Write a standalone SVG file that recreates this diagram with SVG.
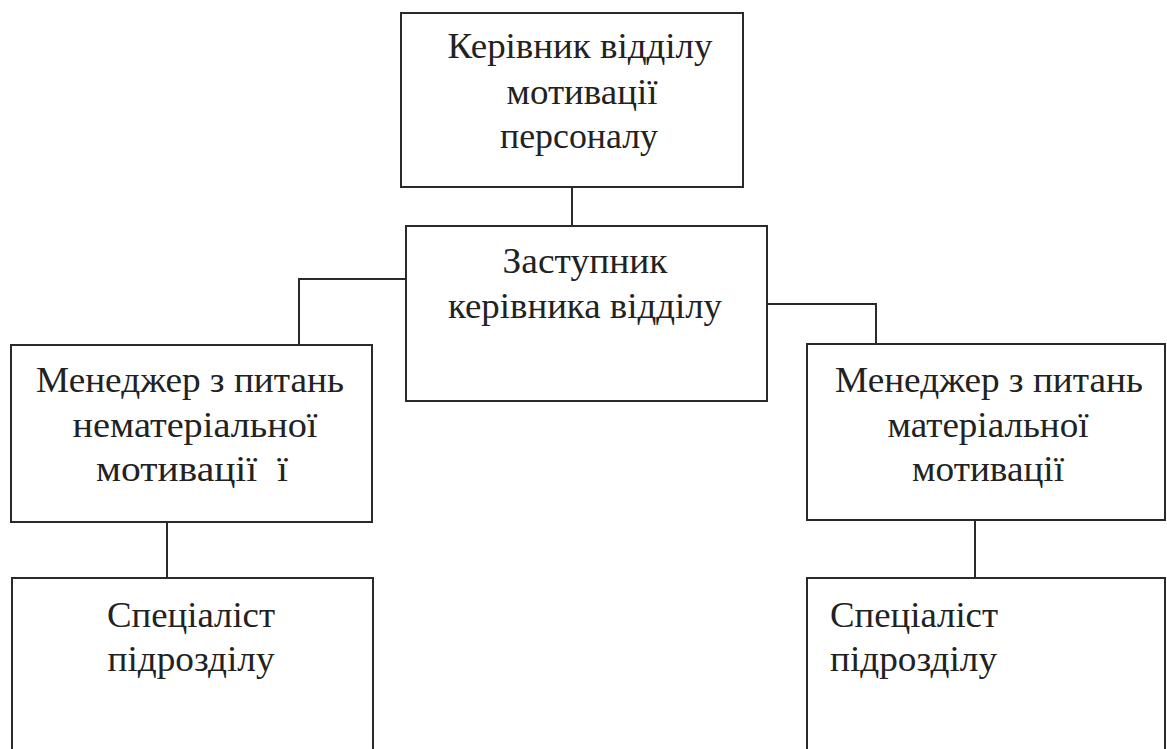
<svg xmlns="http://www.w3.org/2000/svg" width="1167" height="749" viewBox="0 0 1167 749">
<style>
.box{fill:#fff;stroke:#2a2a2a;stroke-width:2}
.t{font-family:"Liberation Serif","Times New Roman",serif;font-size:35px;fill:#222;text-anchor:middle}
.l{text-anchor:start}
.c{fill:none;stroke:#2a2a2a;stroke-width:2}
</style>
<rect width="1167" height="749" fill="#fff"/>
<g id="connectors">
<path class="c" d="M572 187V226"/>
<path class="c" d="M406 279H299V345"/>
<path class="c" d="M767 304H876V344"/>
<path class="c" d="M876 344H982" stroke-width="3"/>
<path class="c" d="M167 522V578"/>
<path class="c" d="M975 520V578"/>
</g>
<g id="n1">
<rect class="box" x="401" y="13" width="342" height="174"/>
<text class="t" x="580" y="58" textLength="265" lengthAdjust="spacingAndGlyphs">Керівник відділу</text>
<text class="t" x="582" y="104" textLength="151" lengthAdjust="spacingAndGlyphs">мотивації</text>
<text class="t" x="579" y="148" textLength="158" lengthAdjust="spacingAndGlyphs">персоналу</text>
</g>
<g id="n2">
<rect class="box" x="406" y="226" width="361" height="175"/>
<text class="t" x="585" y="273" textLength="165" lengthAdjust="spacingAndGlyphs">Заступник</text>
<text class="t" x="585" y="318" textLength="274" lengthAdjust="spacingAndGlyphs">керівника відділу</text>
</g>
<g id="n3">
<rect class="box" x="11" y="345" width="361" height="177"/>
<text class="t" x="190" y="392" textLength="308" lengthAdjust="spacingAndGlyphs">Менеджер з питань</text>
<text class="t" x="195" y="437" textLength="245" lengthAdjust="spacingAndGlyphs">нематеріальної</text>
<text class="t" x="192" y="481" textLength="192" lengthAdjust="spacingAndGlyphs">мотивації&#160; ї</text>
</g>
<g id="n4">
<rect class="box" x="807" y="344" width="358" height="176"/>
<text class="t" x="989" y="392" textLength="308" lengthAdjust="spacingAndGlyphs">Менеджер з питань</text>
<text class="t" x="988" y="437" textLength="201" lengthAdjust="spacingAndGlyphs">матеріальної</text>
<text class="t" x="988" y="481" textLength="152" lengthAdjust="spacingAndGlyphs">мотивації</text>
</g>
<g id="n5">
<rect class="box" x="12" y="578" width="361" height="190"/>
<text class="t" x="191" y="627" textLength="168" lengthAdjust="spacingAndGlyphs">Спеціаліст</text>
<text class="t" x="191" y="671" textLength="167" lengthAdjust="spacingAndGlyphs">підрозділу</text>
</g>
<g id="n6">
<rect class="box" x="807" y="578" width="358" height="190"/>
<text class="t l" x="830" y="627" textLength="168" lengthAdjust="spacingAndGlyphs">Спеціаліст</text>
<text class="t l" x="830" y="671" textLength="167" lengthAdjust="spacingAndGlyphs">підрозділу</text>
</g>
</svg>
